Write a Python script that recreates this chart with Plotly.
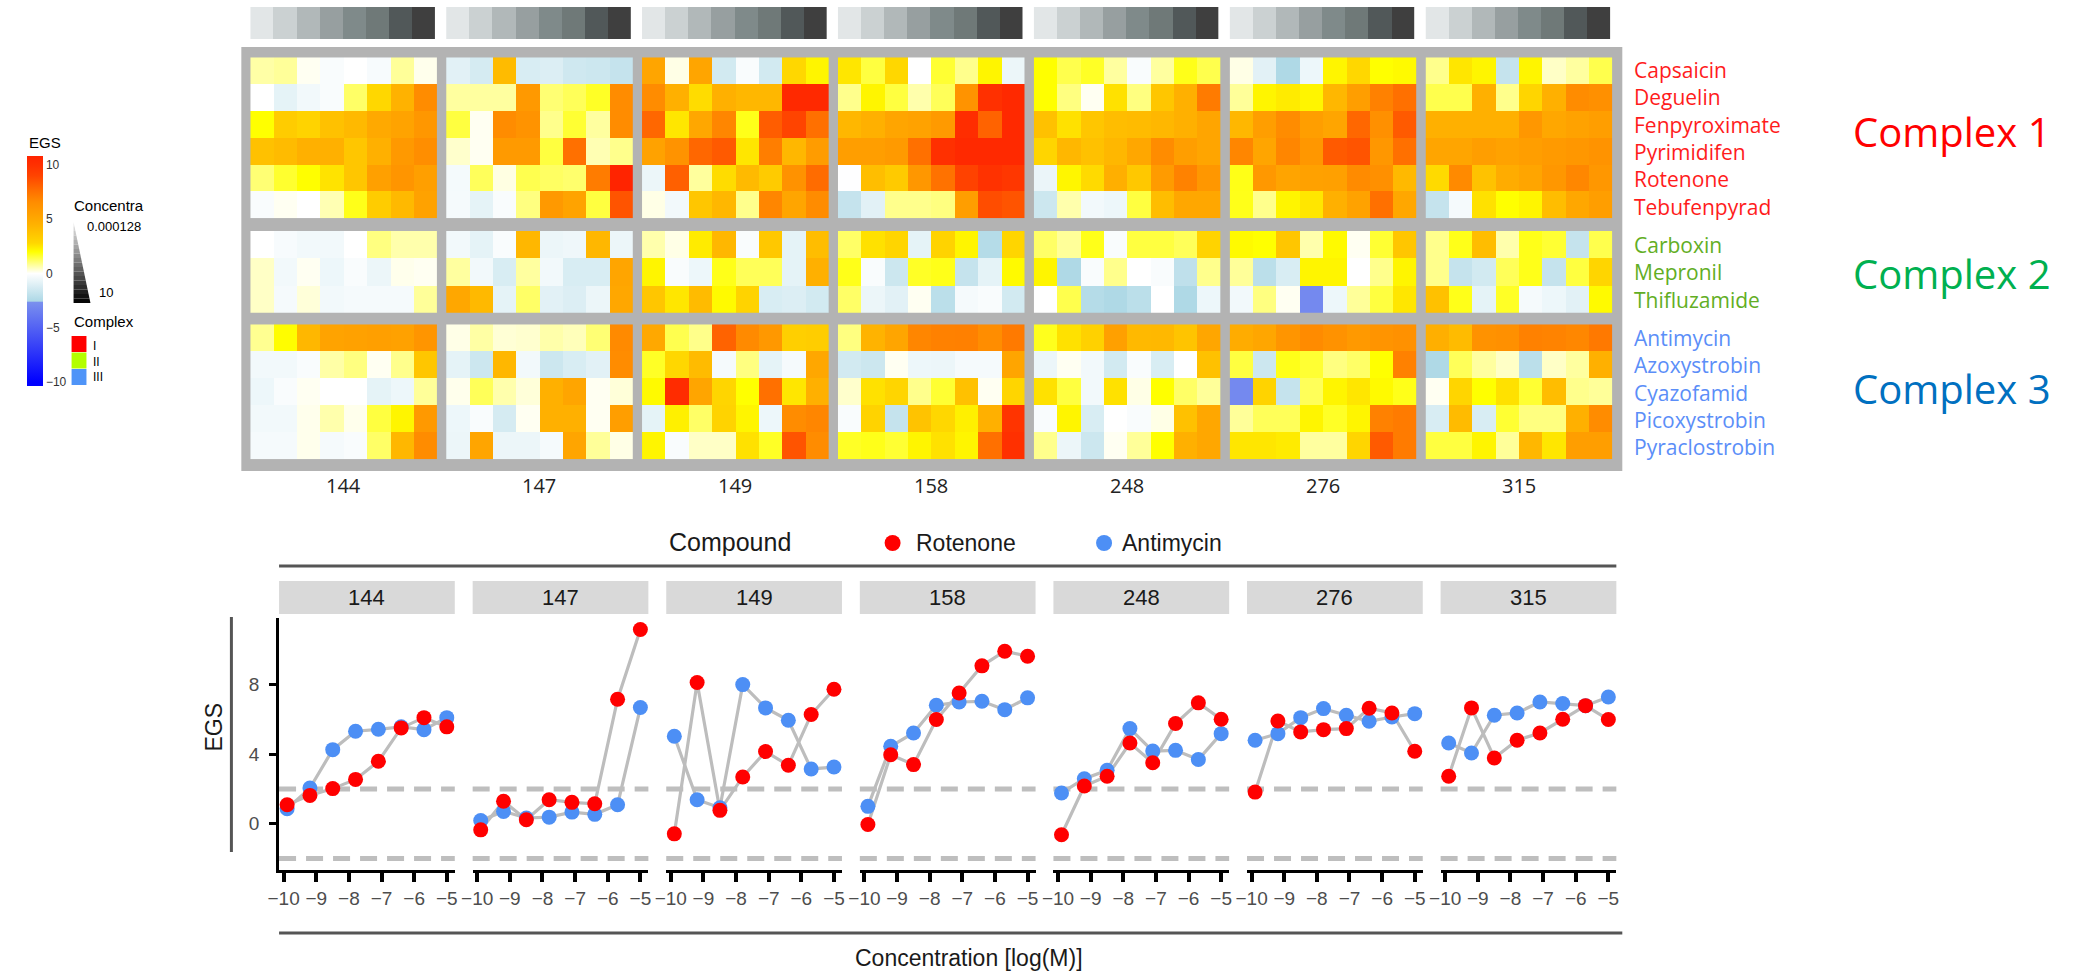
import numpy as np
import plotly.graph_objects as go

W, H = 2079, 974

# ---------------------------------------------------------------- data
CELL_LINES = ["144", "147", "149", "158", "248", "276", "315"]
COMPLEX_I = ["Capsaicin", "Deguelin", "Fenpyroximate", "Pyrimidifen", "Rotenone", "Tebufenpyrad"]
COMPLEX_II = ["Carboxin", "Mepronil", "Thifluzamide"]
COMPLEX_III = ["Antimycin", "Azoxystrobin", "Cyazofamid", "Picoxystrobin", "Pyraclostrobin"]
COMPLEX_NAMES = ["Complex 1", "Complex 2", "Complex 3"]
CONC_UM = [0.000128, 0.00064, 0.0032, 0.016, 0.08, 0.4, 2, 10]

# EGS of the two reference compounds per cell line (8 concentrations)
ROT_144 = [1.09, 1.63, 2.02, 2.55, 3.59, 5.51, 6.10, 5.57]
ROT_147 = [-0.35, 1.29, 0.23, 1.38, 1.23, 1.15, 7.16, 11.17]
ROT_149 = [-0.58, 8.12, 0.77, 2.69, 4.15, 3.36, 6.28, 7.73]
ROT_158 = [-0.04, 3.97, 3.40, 5.99, 7.52, 9.08, 9.92, 9.63]
ROT_248 = [-0.63, 2.17, 2.73, 4.64, 3.51, 5.76, 6.95, 6.01]
ROT_276 = [1.82, 5.91, 5.28, 5.41, 5.47, 6.64, 6.37, 4.17]
ROT_315 = [2.73, 6.66, 3.78, 4.80, 5.22, 6.01, 6.79, 5.99]

ANT_144 = [0.86, 2.05, 4.26, 5.32, 5.43, 5.57, 5.41, 6.10]
ANT_147 = [0.19, 0.71, 0.33, 0.38, 0.67, 0.54, 1.09, 6.68]
ANT_149 = [5.03, 1.38, 0.92, 8.00, 6.66, 5.95, 3.15, 3.26]
ANT_158 = [1.00, 4.45, 5.22, 6.81, 7.00, 7.04, 6.56, 7.24]
ANT_248 = [1.77, 2.59, 3.07, 5.47, 4.18, 4.22, 3.69, 5.18]
ANT_276 = [4.80, 5.18, 6.10, 6.62, 6.24, 5.89, 6.14, 6.33]
ANT_315 = [4.64, 4.07, 6.24, 6.37, 7.00, 6.91, 6.79, 7.29]

# heatmap rows: Complex I (6), Complex II (3), Complex III (5)
EGS_144 = [
    [0.7, 0.8, 0.1, -0.2, 0.0, -0.25, 0.8, 0.15],
    [0.0, -0.8, -0.4, -0.2, 1.2, 2.8, 4.5, 6.6],
    [2.0, 3.3, 3.0, 3.8, 4.2, 5.0, 5.3, 6.0],
    [3.8, 4.1, 4.6, 4.6, 3.6, 4.6, 5.9, 6.5],
    ROT_144,
    [-0.2, 0.1, 0.0, 0.6, 1.8, 3.3, 4.2, 5.4],
    [0.0, -0.25, -0.4, -0.4, 0.0, 1.0, 0.65, 0.65],
    [0.45, -0.4, 0.1, -0.55, -0.2, -0.6, 0.15, 0.1],
    [0.45, -0.3, 0.3, -0.4, -0.3, -0.3, -0.3, 0.8],
    ANT_144,
    [-0.4, -0.4, -0.2, 0.7, 1.0, 0.1, 0.9, 3.6],
    [-0.55, -0.2, 0.1, 0.0, 0.0, -0.8, -0.55, 0.8],
    [-0.4, -0.4, 0.15, 0.65, 0.15, 1.5, 2.2, 5.9],
    [-0.3, -0.3, 0.15, -0.3, -0.2, 1.2, 4.3, 6.6],
]
EGS_147 = [
    [-0.9, -1.3, 4.1, -1.2, -1.1, -1.5, -1.6, -1.8],
    [0.75, 0.75, 0.75, 5.9, 1.1, 1.3, 1.7, 6.6],
    [1.5, 0.1, 6.6, 6.2, 0.9, 1.6, 0.75, 6.6],
    [0.4, 0.1, 5.8, 5.8, 1.5, 7.6, 0.6, 0.9],
    ROT_147,
    [-0.3, -0.8, -0.2, 1.0, 5.9, 5.3, 1.5, 8.5],
    [-0.4, -0.8, -0.2, 4.3, -0.6, -0.5, 4.3, -0.6],
    [0.75, -0.4, -1.2, 0.75, -0.4, -1.2, -1.2, 5.2],
    [5.1, 4.2, -0.8, 1.2, -0.9, -1.1, -0.6, 5.1],
    ANT_147,
    [-0.8, -1.6, 4.3, -0.4, -1.6, -1.2, -0.9, 6.6],
    [0.15, 1.3, 0.65, 0.3, 4.6, 5.2, 0.1, 0.3],
    [-0.55, -0.2, -1.3, 0.1, 4.6, 4.6, 0.1, 5.6],
    [-0.6, 5.2, -0.6, -0.6, -0.3, 5.2, 0.8, 0.2],
]
EGS_149 = [
    [5.2, 0.2, 5.2, -1.4, -0.2, -1.4, 2.8, 2.2],
    [6.6, 4.6, 2.7, 4.6, 4.3, 4.3, 10.5, 10.5],
    [7.9, 2.5, 5.1, 6.8, 1.8, 8.2, 9.0, 7.6],
    [5.4, 6.2, 7.9, 8.3, 2.5, 7.1, 4.3, 5.7],
    ROT_149,
    [0.2, -0.4, 3.6, 4.3, 0.9, 6.8, 5.2, 6.6],
    [0.65, 0.2, 2.4, 4.3, -0.2, 3.5, -0.8, 4.0],
    [2.2, -0.2, -0.55, 1.8, 1.3, 1.3, -0.8, 4.6],
    [3.6, 2.5, 4.1, 2.1, 3.0, -1.2, -1.1, -1.4],
    ANT_149,
    [1.7, 2.8, 4.1, -0.3, 1.0, -0.8, -0.3, 5.1],
    [2.1, 10.3, 5.2, 2.9, 2.0, 7.6, 2.5, 4.6],
    [-0.8, 2.3, 1.2, 3.0, 2.2, -0.55, 6.6, 6.8],
    [2.2, -0.2, 0.45, 0.45, 2.6, 1.7, 8.5, 6.6],
]
EGS_158 = [
    [2.5, 1.5, 2.8, 0.0, 1.6, 0.9, 2.2, -0.6],
    [0.9, 2.2, 1.5, 0.65, 1.3, 6.2, 10.0, 10.5],
    [4.3, 4.6, 5.2, 5.4, 5.8, 10.2, 8.0, 10.5],
    [5.6, 5.6, 5.8, 7.6, 10.0, 10.5, 10.5, 10.5],
    ROT_158,
    [-1.8, -0.9, 0.9, 0.9, 1.0, 5.6, 8.7, 8.5],
    [1.2, 2.6, 2.9, -0.8, 3.0, 2.2, -2.3, 2.9],
    [1.8, -0.2, -1.6, 1.7, 1.8, -1.8, -0.8, 2.1],
    [1.2, -0.6, -0.9, 0.1, -2.1, -0.3, -0.2, -1.4],
    ANT_158,
    [-1.4, -1.6, 0.1, -0.55, -0.6, -0.3, -0.3, 5.2],
    [0.4, 2.6, 2.9, 0.9, 1.6, 3.8, 0.1, 2.9],
    [-0.2, 3.0, -1.8, 3.7, 2.8, 2.3, 4.6, 9.8],
    [1.7, 1.8, 1.6, 2.2, 2.6, 2.2, 7.6, 10.0],
]
EGS_248 = [
    [2.0, 1.4, 1.7, 0.75, -0.2, 0.75, 1.8, 1.4],
    [2.0, 1.0, 0.1, 2.6, 1.0, 3.6, 4.6, 7.2],
    [3.8, 2.6, 3.6, 4.0, 4.1, 4.3, 4.6, 5.2],
    [2.9, 4.3, 3.8, 4.3, 5.1, 6.6, 5.6, 5.2],
    ROT_248,
    [-1.6, 0.65, -0.4, -0.55, 1.5, 4.0, 5.1, 5.1],
    [1.2, 0.8, 1.8, -0.2, 1.5, 1.5, 1.3, 3.0],
    [2.2, -2.5, -0.2, 0.9, 0.0, -0.2, -2.0, 0.9],
    [0.0, 1.4, -2.3, -2.5, -2.1, 0.0, -2.5, -0.55],
    ANT_248,
    [-0.6, 0.1, -0.4, -1.4, -0.2, -1.2, 0.0, 3.8],
    [2.6, 1.5, -0.4, 2.6, 0.2, 2.0, 1.2, 0.8],
    [-0.2, 2.2, -1.2, 0.0, -0.2, 0.2, 3.8, 5.1],
    [0.9, -0.6, -1.6, 0.1, 0.8, 2.0, 4.6, 5.1],
]
EGS_276 = [
    [0.2, -0.9, -2.5, -0.55, 2.2, 2.8, 2.0, 2.1],
    [0.8, 2.2, 2.4, 2.2, 4.3, 5.6, 7.0, 7.6],
    [4.3, 5.6, 6.6, 5.6, 5.2, 7.9, 6.4, 8.3],
    [6.8, 5.2, 6.8, 6.0, 8.3, 8.5, 6.0, 7.6],
    ROT_276,
    [1.8, 0.9, 2.2, 2.5, 4.6, 5.4, 7.6, 5.1],
    [2.1, 2.0, 3.6, 0.65, 2.1, 0.1, 1.6, 3.6],
    [0.8, -2.1, -1.2, 2.2, 2.2, 0.0, 0.9, 2.2],
    [-0.4, 1.0, 0.1, -3.0, -0.55, 0.8, 1.5, 2.5],
    ANT_276,
    [1.5, -1.6, 1.8, 1.6, 1.0, 1.2, 2.0, 7.0],
    [-3.0, 3.0, -1.8, 1.3, 2.2, 2.5, 2.1, 1.8],
    [0.8, 1.3, 1.3, 2.2, 1.7, 2.2, 7.0, 7.2],
    [2.5, 2.5, 2.4, 0.75, 0.75, 2.9, 8.3, 7.2],
]
EGS_315 = [
    [0.9, 2.5, 2.2, -1.8, 2.2, 0.45, 0.75, 1.4],
    [1.4, 1.4, 4.6, 0.9, 2.9, 4.6, 6.6, 6.4],
    [4.6, 4.6, 4.6, 4.6, 6.0, 5.1, 5.4, 5.6],
    [5.2, 5.2, 5.6, 5.4, 5.6, 5.8, 6.0, 6.2],
    ROT_315,
    [-1.8, -0.3, 2.6, 2.0, 2.2, 4.0, 5.1, 5.6],
    [0.9, 1.8, 4.0, 0.65, 1.8, 1.6, -1.8, 1.4],
    [0.9, -1.8, -1.4, 1.3, 1.8, -1.8, 1.5, 2.9],
    [3.8, 1.8, -0.8, 1.7, -0.3, -0.55, -0.9, 2.1],
    ANT_315,
    [-2.5, 1.3, 0.75, 0.45, -2.1, 0.45, 0.75, 4.6],
    [0.1, 2.9, 2.0, 2.6, 1.6, 4.0, 0.9, 0.8],
    [-1.2, 4.1, -1.2, 1.6, 1.0, 1.0, 4.6, 6.6],
    [1.5, 1.5, 2.2, 0.8, 4.3, 2.5, 5.6, 5.6],
]

EGS_PANELS = [EGS_144, EGS_147, EGS_149, EGS_158, EGS_248, EGS_276, EGS_315]
ROTENONE = [ROT_144, ROT_147, ROT_149, ROT_158, ROT_248, ROT_276, ROT_315]
ANTIMYCIN = [ANT_144, ANT_147, ANT_149, ANT_158, ANT_248, ANT_276, ANT_315]

# ---------------------------------------------------------------- styling
LOG_M = np.log10(np.array(CONC_UM) * 1e-6)
STEP = LOG_M[1] - LOG_M[0]

CMIN, CMAX = -10.37, 10.83
EGS_STOPS = [(-10.37, "#0000ff"), (-10.0, "#0000ff"), (-2.65, "#7a90ee"),
             (-2.55, "#add8e6"), (0.0, "#ffffff"), (2.0, "#ffff00"),
             (2.8, "#ffd700"), (4.6, "#ffb000"), (6.6, "#ff8c00"),
             (7.6, "#ff7000"), (9.0, "#ff4400"), (10.0, "#ff3000"),
             (10.83, "#ff2400")]
EGS_SCALE = [[(v - CMIN) / (CMAX - CMIN), c] for v, c in EGS_STOPS]
EGS_SCALE[0][0], EGS_SCALE[-1][0] = 0.0, 1.0

CONC_GRAYS = ["#e2e6e7", "#cbd1d2", "#b1b8b9", "#979fa0",
              "#7f8a8a", "#6f7978", "#515859", "#3f3f3f"]
CONC_SCALE = [[i / 7, c] for i, c in enumerate(CONC_GRAYS)]

GROUP_COLORS = ["#ff1c1c", "#62ae24", "#5b8ef8"]
COMPLEX_COLORS = ["#ff0000", "#00b050", "#0070c0"]
LEGEND_COMPLEX = ["#ff0000", "#b3ff00", "#4f94f8"]
ROT_COLOR, ANT_COLOR = "#ff0000", "#4d8ff5"

HEAT_FONT = "Open Sans, Noto Sans, sans-serif"
GG_FONT = "Liberation Sans, Arial, sans-serif"


def fx(px):
    return px / W


def fy(py):
    return 1 - py / H


layout = dict(width=W, height=H, margin=dict(l=0, r=0, t=0, b=0),
              paper_bgcolor="white", plot_bgcolor="white", showlegend=False,
              shapes=[], annotations=[])
traces = []
n_axes = [0]


def new_axes(x0, x1, y0, y1, xopts, yopts):
    n_axes[0] += 1
    s = "" if n_axes[0] == 1 else str(n_axes[0])
    layout["xaxis" + s] = dict(domain=[fx(x0), fx(x1)], anchor="y" + s, **xopts)
    layout["yaxis" + s] = dict(domain=[fy(y1), fy(y0)], anchor="x" + s, **yopts)
    return "x" + s, "y" + s


def text(s, x, y, size, color="#1a1a1a", family=GG_FONT, xanchor="center",
         yanchor="middle", angle=0, align="center"):
    layout["annotations"].append(dict(
        text=s, x=fx(x), y=fy(y), xref="paper", yref="paper", showarrow=False,
        xanchor=xanchor, yanchor=yanchor, textangle=angle, align=align,
        font=dict(size=size, color=color, family=family)))


def rect(x0, y0, x1, y1, fill, layer="below"):
    layout["shapes"].append(dict(type="rect", xref="paper", yref="paper",
                                 x0=fx(x0), x1=fx(x1), y0=fy(y1), y1=fy(y0),
                                 fillcolor=fill, line=dict(width=0), layer=layer))


def hline_px(x0, x1, y, color, width):
    layout["shapes"].append(dict(type="line", xref="paper", yref="paper",
                                 x0=fx(x0), x1=fx(x1), y0=fy(y), y1=fy(y),
                                 line=dict(color=color, width=width)))


def vline_px(x, y0, y1, color, width):
    layout["shapes"].append(dict(type="line", xref="paper", yref="paper",
                                 x0=fx(x), x1=fx(x), y0=fy(y0), y1=fy(y1),
                                 line=dict(color=color, width=width)))


hidden = dict(visible=False, fixedrange=True)
x_cells = [LOG_M[0] - STEP / 2, LOG_M[-1] + STEP / 2]

# ---------------------------------------------------------------- heatmap block
rect(231, 47, 1622, 471, "#b3b3b3")

GROUPS = [(COMPLEX_I, 0, 57.3, 218.3), (COMPLEX_II, 6, 231.0, 312.7),
          (COMPLEX_III, 9, 324.3, 459.3)]
HM_X0, HM_PITCH, HM_W = 240.0, 197.3, 188.0

for k, line in enumerate(CELL_LINES):
    x0 = HM_X0 + k * HM_PITCH
    x1 = x0 + HM_W
    # concentration annotation bar
    xa, ya = new_axes(x0, x1 - 2, 7, 39, dict(hidden, range=x_cells),
                      dict(hidden, range=[-0.5, 0.5]))
    traces.append(go.Heatmap(z=[list(LOG_M)], x=LOG_M, y=[0], colorscale=CONC_SCALE,
                             zmin=LOG_M[0], zmax=LOG_M[-1], showscale=False,
                             xaxis=xa, yaxis=ya, hoverinfo="skip"))
    for names, start, y0, y1 in GROUPS:
        n = len(names)
        rows = EGS_PANELS[k][start:start + n]
        xa, ya = new_axes(x0, x1, y0, y1, dict(hidden, range=x_cells),
                          dict(hidden, range=[n - 0.5, -0.5]))
        traces.append(go.Heatmap(z=rows, x=LOG_M, y=list(range(n)),
                                 coloraxis="coloraxis", xaxis=xa, yaxis=ya,
                                 text=[names[i:i + 1] * 8 for i in range(n)],
                                 hovertemplate="%{text}<br>EGS %{z}<extra></extra>"))
    text(line, (x0 + x1) / 2, 485, 20, color="#222222", family=HEAT_FONT)

# compound names (one block per complex, 1.3em line pitch ~ row pitch)
for g, (names, start, y0, y1) in enumerate(GROUPS):
    text("<br>".join(names), 1632, (y0 + y1) / 2 + 1, 21, color=GROUP_COLORS[g],
         family=HEAT_FONT, xanchor="left", align="left")
text(COMPLEX_NAMES[0], 1852, 131, 40, COMPLEX_COLORS[0], HEAT_FONT, "left")
text(COMPLEX_NAMES[1], 1852, 273, 40, COMPLEX_COLORS[1], HEAT_FONT, "left")
text(COMPLEX_NAMES[2], 1852, 388, 40, COMPLEX_COLORS[2], HEAT_FONT, "left")

layout["coloraxis"] = dict(
    cmin=CMIN, cmax=CMAX, colorscale=EGS_SCALE,
    colorbar=dict(x=fx(15), xanchor="left", xref="paper", y=fy(271), yanchor="middle",
                  len=230, lenmode="pixels", thickness=16, thicknessmode="pixels",
                  xpad=0, ypad=0, outlinewidth=0, ticks="",
                  tickvals=[-10, -5, 0, 5, 10], ticktext=["\u221210", "\u22125", "0", "5", "10"],
                  tickfont=dict(size=12, color="#333333", family=GG_FONT),
                  title=dict(text="")))

# side legends
text("EGS", 15, 142, 15, "#000000", GG_FONT, "left")
text("Concentra", 60, 206, 15, "#000000", GG_FONT, "left")
text("0.000128", 74, 226, 13, "#000000", GG_FONT, "left")
text("10", 86, 292, 13, "#000000", GG_FONT, "left")
N_SLICE = 18
for i in range(N_SLICE):
    ya_, yb_ = 222 + 81 * i / N_SLICE, 222 + 81 * (i + 1) / N_SLICE
    xa_, xb_ = 62 + 17 * i / N_SLICE, 62 + 17 * (i + 1) / N_SLICE
    g = int(235 - 235 * (i + 0.5) / N_SLICE)
    path = (f"M {fx(62)},{fy(ya_)} L {fx(xa_)},{fy(ya_)} L {fx(xb_)},{fy(yb_)} "
            f"L {fx(62)},{fy(yb_)} Z")
    layout["shapes"].append(dict(type="path", path=path, xref="paper", yref="paper",
                                 fillcolor=f"rgb({g},{g},{g})", line=dict(width=0)))
text("Complex", 60, 322, 15, "#000000", GG_FONT, "left")
for i, col in enumerate(LEGEND_COMPLEX):
    rect(60, 336 + 16.5 * i, 75, 352 + 16.5 * i, col, layer="above")
text("I<br>II<br>III", 80, 361, 12, "#000000", GG_FONT, "left", align="left")

# ---------------------------------------------------------------- EGS profiles
LP_X0, LP_PITCH, LP_W = 269.0, 195.0, 177.0
LP_TOP, LP_BOT = 618.0, 870.0
XR = [-10.14, -4.755]
YR = [-2.66, 11.83]
tick_font = dict(size=19, color="#4d4d4d", family=GG_FONT)

for k, line in enumerate(CELL_LINES):
    x0 = LP_X0 + k * LP_PITCH
    x1 = x0 + LP_W
    xopts = dict(range=XR, showgrid=False, zeroline=False, showline=True,
                 linecolor="black", linewidth=3, ticks="outside", ticklen=9,
                 tickwidth=4, tickcolor="black",
                 tickvals=[-10, -9, -8, -7, -6, -5],
                 ticktext=["\u221210", "\u22129", "\u22128", "\u22127", "\u22126", "\u22125"],
                 tickfont=tick_font, fixedrange=True)
    if k == 0:
        yopts = dict(range=YR, showgrid=False, zeroline=False, showline=True,
                     linecolor="black", linewidth=3, ticks="outside", ticklen=7,
                     tickwidth=3, tickcolor="black", tickvals=[0, 4, 8],
                     ticklabelstandoff=6, tickfont=tick_font, fixedrange=True)
    else:
        yopts = dict(hidden, range=YR)
    xa, ya = new_axes(x0, x1, LP_TOP, LP_BOT, xopts, yopts)
    for yv in (2, -2):
        layout["shapes"].append(dict(type="line", xref=f"{xa} domain", yref=ya,
                                     x0=0, x1=1, y0=yv, y1=yv, layer="below",
                                     line=dict(color="#bebebe", width=5, dash="17px,10px")))
    for series in (ANTIMYCIN[k], ROTENONE[k]):
        traces.append(go.Scatter(x=LOG_M, y=series, mode="lines", xaxis=xa, yaxis=ya,
                                 line=dict(color="#bdbdbd", width=3.2), hoverinfo="skip"))
    for series, col, nm in ((ANTIMYCIN[k], ANT_COLOR, "Antimycin"),
                            (ROTENONE[k], ROT_COLOR, "Rotenone")):
        traces.append(go.Scatter(x=LOG_M, y=series, mode="markers", name=nm,
                                 xaxis=xa, yaxis=ya,
                                 marker=dict(color=col, size=15, line=dict(width=0))))
    # facet strip
    rect(x0, 581, x1, 614, "#d9d9d9")
    text(line, (x0 + x1) / 2, 597.5, 22, "#1a1a1a")

# frame lines, titles, legend
hline_px(269, 1616, 566, "#555555", 3)
hline_px(269, 1622, 933, "#555555", 3)
vline_px(221, 617, 852, "#555555", 3)
text("EGS", 203, 727, 23, "#1a1a1a", angle=-90)
text("Concentration [log(M)]", 964, 958, 23, "#1a1a1a")
text("Compound", 723, 542, 25, "#1a1a1a")
for cx, col, lab, tx in ((887, ROT_COLOR, "Rotenone", 909), (1100, ANT_COLOR, "Antimycin", 1116)):
    layout["shapes"].append(dict(type="circle", xref="paper", yref="paper",
                                 xsizemode="pixel", ysizemode="pixel",
                                 xanchor=fx(cx), yanchor=fy(543),
                                 x0=-8, x1=8, y0=-8, y1=8,
                                 fillcolor=col, line=dict(width=0)))
    text(lab, tx, 543, 23, "#1a1a1a", xanchor="left")

fig = go.Figure(data=traces, layout=layout)
fig.write_html("out.html")
